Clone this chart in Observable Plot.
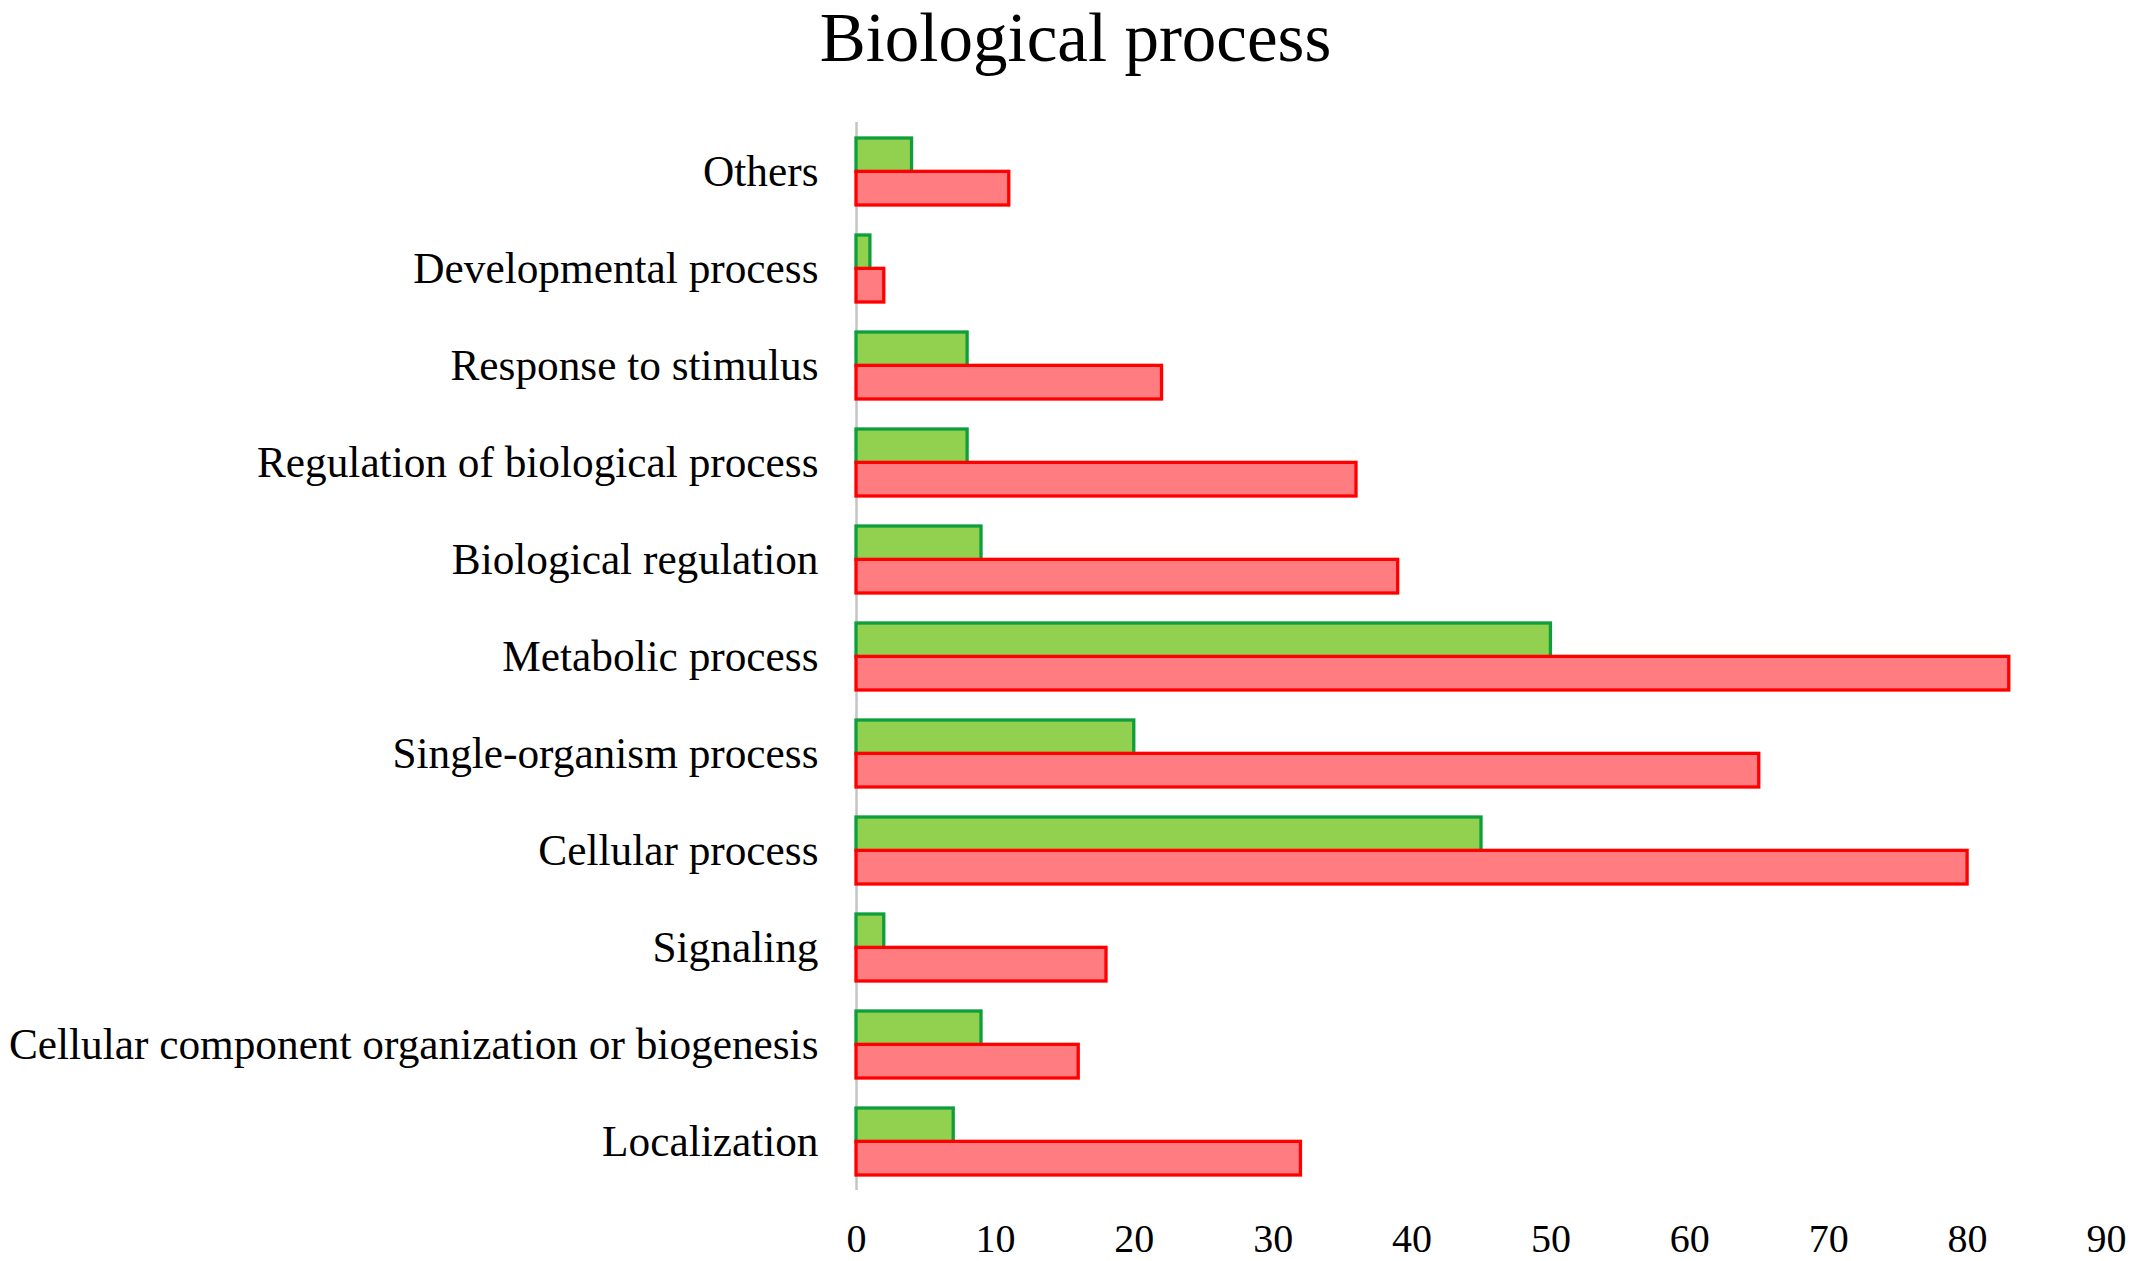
<!DOCTYPE html>
<html>
<head>
<meta charset="utf-8">
<script src="https://cdn.jsdelivr.net/npm/d3@7"></script>
<script src="https://cdn.jsdelivr.net/npm/@observablehq/plot@0.6"></script>
<style>
  html, body { margin: 0; padding: 0; background: #ffffff; }
  body { position: relative; width: 2133px; height: 1261px; overflow: hidden; }
  #title {
    position: absolute; top: 0; left: 0;
    width: 2133px; height: 76px; line-height: 76px; text-align: center;
    font-family: "Liberation Serif", "Times New Roman", serif; font-size: 69px;
    color: #000; padding-left: 18px; box-sizing: border-box; white-space: nowrap;
  }
  #chart { position: absolute; top: 51px; left: 0; }
</style>
</head>
<body>
<div id="chart"></div>
<div id="title">Biological process</div>
<script>
const categories = [
  "Others",
  "Developmental process",
  "Response to stimulus",
  "Regulation of biological process",
  "Biological regulation",
  "Metabolic process",
  "Single-organism process",
  "Cellular process",
  "Signaling",
  "Cellular component organization or biogenesis",
  "Localization"
];
const greenValues = [4, 1, 8, 8, 9, 50, 20, 45, 2, 9, 7];
const redValues   = [11, 2, 22, 36, 39, 83, 65, 80, 18, 16, 32];
const xTicks = [0, 10, 20, 30, 40, 50, 60, 70, 80, 90];

const greenData = categories.map((c, i) => ({category: c, value: greenValues[i]}));
const redData = categories.map((c, i) => ({category: c, value: redValues[i]}));

const W = 2133, H = 1210, mt = 71, mb = 71;
const padIn = 0.313, padOut = 0.1565;
const bw = d3.scaleBand().domain(categories).range([mt, H - mb])
  .paddingInner(padIn).paddingOuter(padOut).bandwidth();

const chart = Plot.plot({
  width: W,
  height: H,
  marginLeft: 856,
  marginRight: 27,
  marginTop: mt,
  marginBottom: mb,
  style: {fontFamily: "'Liberation Serif', 'Times New Roman', serif", color: "#000", background: "#fff"},
  x: {domain: [0, 90]},
  y: {domain: categories, paddingInner: padIn, paddingOuter: padOut},
  marks: [
    Plot.ruleX([0], {stroke: "#c4c4c4", strokeWidth: 2.5}),
    Plot.barX(greenData, {x: "value", y: "category", fill: "#92D050", stroke: "#0E9E3C", strokeWidth: 3.3, insetBottom: bw / 2}),
    Plot.barX(redData, {x: "value", y: "category", fill: "#FF7C80", stroke: "#FF0000", strokeWidth: 3.3, insetTop: bw / 2}),
    Plot.axisX({ticks: xTicks, tickSize: 0, tickPadding: 33, fontSize: 40, label: null, tickFormat: d => String(d)}),
    Plot.axisY({tickSize: 0, tickPadding: 38, fontSize: 43.3, label: null})
  ]
});
document.getElementById("chart").appendChild(chart);
</script>
</body>
</html>
